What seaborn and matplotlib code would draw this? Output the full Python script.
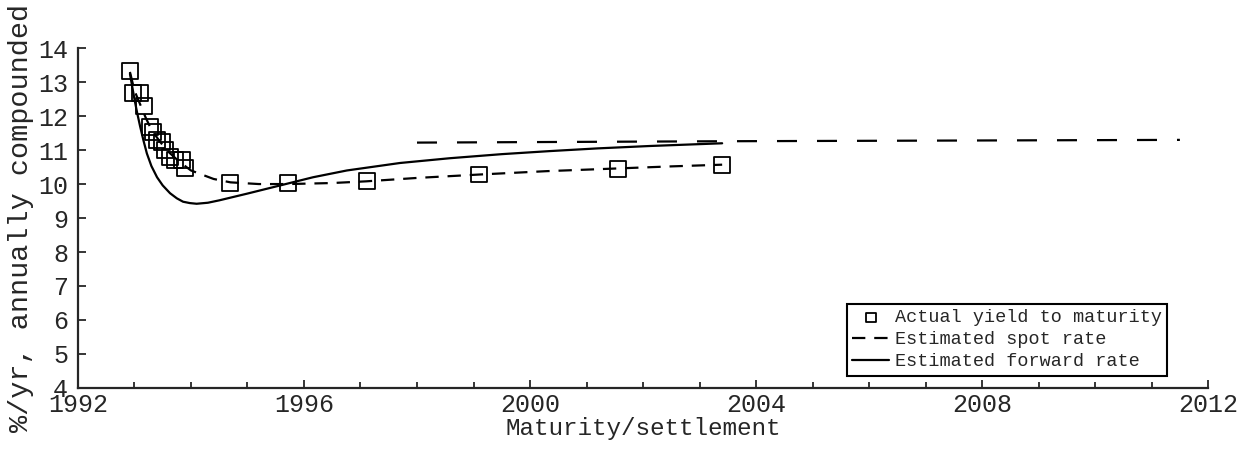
import pandas as pd
import matplotlib.pyplot as plt
from matplotlib.ticker import MultipleLocator
import seaborn as sns

# Actual yields to maturity (squares)
yield_x = [1992.92, 1992.97, 1993.10, 1993.17, 1993.27, 1993.33, 1993.40, 1993.49,
           1993.54, 1993.63, 1993.72, 1993.84, 1993.89, 1994.69, 1995.72, 1997.11,
           1999.10, 2001.56, 2003.40]
yield_y = [13.32, 12.68, 12.68, 12.30, 11.68, 11.53, 11.30, 11.24,
           11.00, 10.80, 10.70, 10.70, 10.47, 10.03, 10.03, 10.08,
           10.28, 10.44, 10.56]

# Estimated spot rate (dashed)
spot_x = [1992.92, 1993.00, 1993.10, 1993.20, 1993.30, 1993.45, 1993.60, 1993.80,
          1994.00, 1994.40, 1994.70, 1995.20, 1995.72, 1996.50, 1997.10, 1998.00,
          1999.10, 2000.30, 2001.56, 2002.50, 2003.40]
spot_y = [13.30, 12.75, 12.35, 11.95, 11.60, 11.25, 10.95, 10.65,
          10.40, 10.15, 10.05, 10.00, 10.00, 10.03, 10.08, 10.18,
          10.28, 10.38, 10.46, 10.52, 10.57]

# Estimated forward rate (solid)
fwd_x = [1992.92, 1993.00, 1993.05, 1993.10, 1993.16, 1993.22, 1993.30, 1993.40,
         1993.50, 1993.63, 1993.75, 1993.86, 1993.98, 1994.10, 1994.30, 1994.50,
         1995.00, 1995.58, 1996.16, 1996.76, 1997.70, 1998.58, 1999.50, 2000.35,
         2001.20, 2002.12, 2003.40]
fwd_y = [13.25, 12.50, 12.08, 11.70, 11.28, 10.90, 10.53, 10.20,
         9.96, 9.73, 9.58, 9.48, 9.44, 9.42, 9.45, 9.52,
         9.72, 9.96, 10.20, 10.40, 10.62, 10.76, 10.88, 10.97,
         11.05, 11.12, 11.20]

# long-run level (long dashes, no legend entry)
long_x = [1998.0, 2003.4, 2011.5]
long_y = [11.22, 11.26, 11.30]

sns.set_style("ticks")
plt.rcParams['font.family'] = ['Liberation Mono', 'DejaVu Sans']

fig = plt.figure(figsize=(12.53, 4.5), dpi=100)
ax = fig.add_axes([0.0622, 0.138, 0.902, 0.755])

spot = pd.DataFrame({'x': spot_x, 'y': spot_y})
fwd = pd.DataFrame({'x': fwd_x, 'y': fwd_y})
lng = pd.DataFrame({'x': long_x, 'y': long_y})
ylds = pd.DataFrame({'x': yield_x, 'y': yield_y})

sns.lineplot(data=spot, x='x', y='y', ax=ax, color='black', lw=1.6,
             linestyle=(0, (6, 4)), label='Estimated spot rate')
sns.lineplot(data=fwd, x='x', y='y', ax=ax, color='black', lw=1.6,
             label='Estimated forward rate')
sns.lineplot(data=lng, x='x', y='y', ax=ax, color='black', lw=1.6,
             linestyle=(0, (9, 9)))
sns.scatterplot(data=ylds, x='x', y='y', ax=ax, marker='s', s=130,
                facecolor='none', edgecolor='black', linewidth=1.3,
                label='Actual yield to maturity', zorder=3)

ax.set_xlim(1992, 2012)
ax.set_ylim(4, 14)
ax.xaxis.set_major_locator(MultipleLocator(4))
ax.xaxis.set_minor_locator(MultipleLocator(1))
ax.yaxis.set_major_locator(MultipleLocator(1))
ax.tick_params(axis='both', which='both', direction='in', width=1.3, labelsize=18)
ax.tick_params(axis='both', which='major', length=6)
ax.tick_params(axis='both', which='minor', length=4)
ax.tick_params(axis='y', pad=7)
ax.tick_params(axis='x', pad=4)
sns.despine(ax=ax)
for sp in ['left', 'bottom']:
    ax.spines[sp].set_linewidth(1.6)

ax.set_xlabel('Maturity/settlement', fontsize=17.5, labelpad=0)
ax.set_ylabel('%/yr, annually compounded', fontsize=20.5, labelpad=3)

handles, labels = ax.get_legend_handles_labels()
order = ['Actual yield to maturity', 'Estimated spot rate', 'Estimated forward rate']
hl = dict(zip(labels, handles))
leg = ax.legend([hl[k] for k in order], order, loc='lower right',
                bbox_to_anchor=(0.964, 0.035), borderaxespad=0, fontsize=13.3,
                frameon=True, fancybox=False, markerscale=0.6, handlelength=2.0,
                handletextpad=0.3, labelspacing=0.28, borderpad=0.3)
leg.get_frame().set_edgecolor('black')
leg.get_frame().set_linewidth(1.5)
leg.get_frame().set_alpha(1)

fig.savefig('out.png', dpi=100)
